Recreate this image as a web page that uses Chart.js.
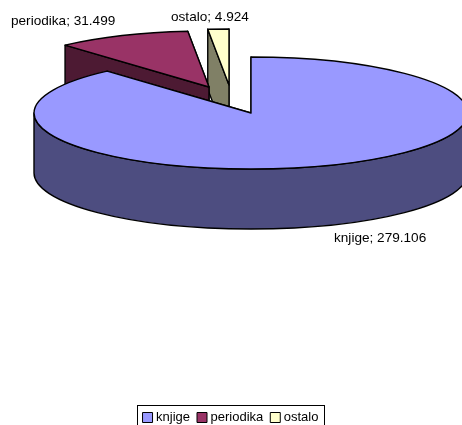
<!DOCTYPE html>
<html><head><meta charset="utf-8">
<style>html,body{margin:0;padding:0;background:#fff;overflow:hidden}canvas{display:block}</style>
<script src="https://cdn.jsdelivr.net/npm/chart.js@4/dist/chart.umd.min.js"></script>
</head><body><canvas id="c" width="462" height="425"></canvas>
<script>
const categories = ['knjige', 'periodika', 'ostalo'];
const values = [279.106, 31.499, 4.924];
const topColors = ['#9999FF', '#993366', '#FFFFCC'];
const wallColors = ['#4D4D80', '#4D1A33', '#808066'];

const view = {cx: 251, cy: 113, rx: 217, ry: 56, depth: 60};
const explode = [[0, 0], [-42, -26], [-22, -28]];
const labelSpots = [[334, 238], [11, 21], [171, 17]];

const fmt = v => v.toFixed(3);

const pie3d = {
  id: 'pie3d',
  beforeDatasetsDraw(chart) {
    const ctx = chart.ctx, arcs = chart.getDatasetMeta(0).data;
    ctx.save();
    ctx.lineWidth = 1.4;
    ctx.strokeStyle = '#000';
    ctx.lineJoin = 'round';
    for (let i = arcs.length - 1; i >= 0; i--) {
      const a0 = arcs[i].startAngle, a1 = arcs[i].endAngle;
      const cx = view.cx + explode[i][0], cy = view.cy + explode[i][1];
      const pt = (a, d) => [cx + view.rx * Math.cos(a), cy + view.ry * Math.sin(a) + d];
      const wall = a => {
        const p = pt(a, 0), q = pt(a, view.depth);
        ctx.beginPath();
        ctx.moveTo(cx, cy); ctx.lineTo(p[0], p[1]); ctx.lineTo(q[0], q[1]);
        ctx.lineTo(cx, cy + view.depth); ctx.closePath();
        ctx.fillStyle = wallColors[i]; ctx.fill(); ctx.stroke();
      };
      wall(a1); wall(a0);
      // outer curved wall: the front half of the rim that lies in this slice
      const from = Math.max(a0, 0), to = Math.min(a1, Math.PI);
      if (to > from) {
        ctx.beginPath();
        ctx.ellipse(cx, cy, view.rx, view.ry, 0, from, to);
        ctx.ellipse(cx, cy + view.depth, view.rx, view.ry, 0, to, from, true);
        ctx.closePath();
        ctx.fillStyle = wallColors[i]; ctx.fill(); ctx.stroke();
      }
      ctx.beginPath();
      ctx.moveTo(cx, cy);
      ctx.ellipse(cx, cy, view.rx, view.ry, 0, a0, a1);
      ctx.closePath();
      ctx.fillStyle = topColors[i]; ctx.fill(); ctx.stroke();
    }
    ctx.fillStyle = '#000';
    ctx.font = '13.6px "Liberation Sans", Arial, sans-serif';
    ctx.textBaseline = 'middle';
    ctx.textAlign = 'left';
    categories.forEach((c, i) => ctx.fillText(c + '; ' + fmt(values[i]), labelSpots[i][0], labelSpots[i][1]));
    ctx.restore();
    return false;
  },
  beforeDraw(chart) {
    // legend frame, behind the legend's own swatches and text
    const boxes = chart.legend.legendHitBoxes, ctx = chart.ctx;
    const first = boxes[0], last = boxes[boxes.length - 1];
    ctx.save();
    ctx.strokeStyle = '#000'; ctx.lineWidth = 1;
    const l = Math.round(first.left) - 8.5, r = Math.round(last.left + last.width) + 6.5;
    ctx.strokeRect(l, 405.5, r - l, 30);
    ctx.restore();
  }
};

new Chart(document.getElementById('c'), {
  type: 'pie',
  data: {labels: categories, datasets: [{data: values, backgroundColor: topColors, borderColor: '#000', borderWidth: 1}]},
  options: {
    responsive: false, animation: false,
    layout: {padding: {bottom: -9, left: 2}},
    plugins: {
      tooltip: {enabled: false},
      legend: {position: 'bottom', labels: {
        usePointStyle: true, pointStyle: 'rect', boxWidth: 4, boxHeight: 10, padding: 10,
        color: '#000', font: {family: '"Liberation Sans", Arial, sans-serif', size: 13}
      }}
    }
  },
  plugins: [pie3d]
});
</script></body></html>
